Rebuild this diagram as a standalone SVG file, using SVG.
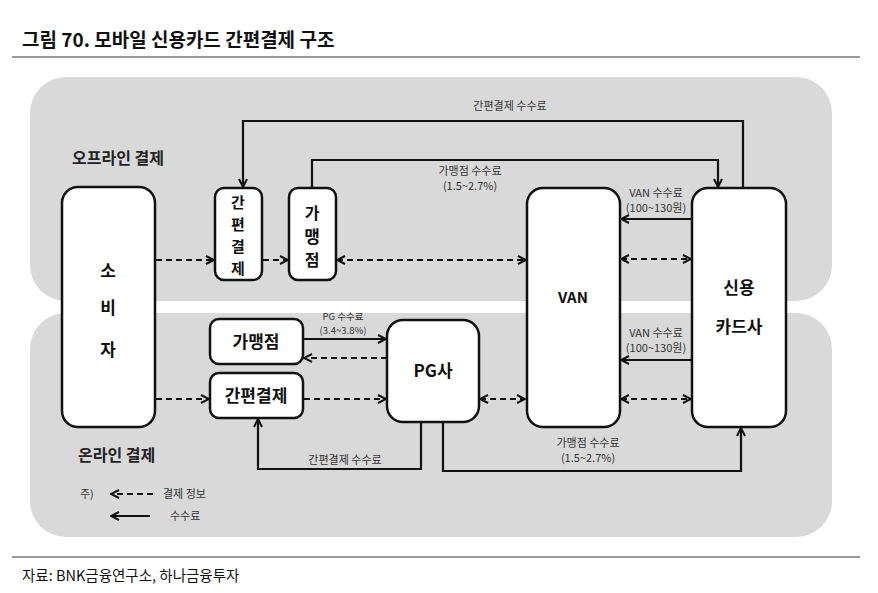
<svg xmlns="http://www.w3.org/2000/svg" width="878" height="593" viewBox="0 0 878 593">
<style>
.panel{fill:#d9d9d9;stroke:none}
.box{fill:#fff;stroke:#111;stroke-width:2.5}
.t{font-family:"Noto Sans CJK KR","Noto Sans",sans-serif;fill:#111}
.nb{font-size:17px;font-weight:bold;text-anchor:middle}
.lbl{font-size:11px;text-anchor:middle;fill:#333}
.lgd{font-size:11px;text-anchor:start;fill:#333}
.sec{font-size:16px;font-weight:bold;fill:#222}
.solid{fill:none;stroke:#111;stroke-width:2.2}
.dash{fill:none;stroke:#111;stroke-width:2.2;stroke-dasharray:6 4}
</style>
<defs>
<marker id="ah" viewBox="0 0 10 10" refX="9" refY="5" markerWidth="10" markerHeight="10" markerUnits="userSpaceOnUse" orient="auto-start-reverse">
<path d="M1,1 L9,5 L1,9" fill="none" stroke="#111" stroke-width="2" stroke-dasharray="none"/>
</marker>
</defs>
<rect width="878" height="593" fill="#fff"/>
<text class="t" x="22" y="47" font-size="19" font-weight="bold">그림 70. 모바일 신용카드 간편결제 구조</text>
<line x1="12" y1="57" x2="860" y2="57" stroke="#999" stroke-width="2"/>
<rect class="panel" x="30" y="77" width="802" height="224" rx="36"/>
<rect class="panel" x="30" y="313" width="802" height="224" rx="36"/>
<text class="t sec" x="72" y="164">오프라인 결제</text>
<text class="t sec" x="78" y="461">온라인 결제</text>
<g id="connectors">
<polyline class="solid" points="743,188 743,121 243,121 243,187" marker-end="url(#ah)"/>
<polyline class="solid" points="312,188 312,160 718,160 718,187" marker-end="url(#ah)"/>
<line class="dash" x1="156" y1="260" x2="214" y2="260" marker-end="url(#ah)"/>
<line class="dash" x1="263" y1="260" x2="288" y2="260" marker-end="url(#ah)"/>
<line class="dash" x1="337" y1="260" x2="526" y2="260" marker-start="url(#ah)" marker-end="url(#ah)"/>
<line class="dash" x1="621" y1="259" x2="691" y2="259" marker-start="url(#ah)" marker-end="url(#ah)"/>
<line class="solid" x1="692" y1="219" x2="621" y2="219" marker-end="url(#ah)"/>
<line class="solid" x1="692" y1="360" x2="621" y2="360" marker-end="url(#ah)"/>
<line class="dash" x1="621" y1="399" x2="691" y2="399" marker-start="url(#ah)" marker-end="url(#ah)"/>
<line class="dash" x1="480" y1="399" x2="525" y2="399" marker-start="url(#ah)" marker-end="url(#ah)"/>
<line class="solid" x1="304" y1="339" x2="386" y2="339" marker-end="url(#ah)"/>
<line class="dash" x1="387" y1="358" x2="304" y2="358" marker-end="url(#ah)"/>
<line class="dash" x1="156" y1="399" x2="209" y2="399" marker-end="url(#ah)"/>
<line class="dash" x1="304" y1="399" x2="386" y2="399" marker-end="url(#ah)"/>
<polyline class="solid" points="421,422 421,469 258,469 258,419" marker-end="url(#ah)"/>
<polyline class="solid" points="443,422 443,471 741,471 741,428" marker-end="url(#ah)"/>
<line class="dash" x1="153" y1="494" x2="111" y2="494" marker-end="url(#ah)"/>
<line class="solid" x1="150" y1="516" x2="111" y2="516" marker-end="url(#ah)"/>
</g>
<text class="t lbl" x="510" y="110">간편결제 수수료</text>
<text class="t lbl" x="470" y="175">가맹점 수수료</text>
<text class="t lbl" x="470" y="190">(1.5~2.7%)</text>
<text class="t lbl" x="656" y="197">VAN 수수료</text>
<text class="t lbl" x="656" y="212">(100~130원)</text>
<text class="t lbl" x="656" y="337">VAN 수수료</text>
<text class="t lbl" x="656" y="352">(100~130원)</text>
<text class="t lbl" x="343" y="320" style="font-size:9.5px">PG 수수료</text>
<text class="t lbl" x="343" y="334" style="font-size:9.5px">(3.4~3.8%)</text>
<text class="t lbl" x="345" y="464">간편결제 수수료</text>
<text class="t lbl" x="588" y="447">가맹점 수수료</text>
<text class="t lbl" x="588" y="462">(1.5~2.7%)</text>
<text class="t lgd" x="80" y="498">주)</text>
<text class="t lgd" x="163" y="498">결제 정보</text>
<text class="t lgd" x="170" y="520">수수료</text>
<g id="consumer">
<rect class="box" x="62" y="187" width="93" height="240" rx="16"/>
<text class="t nb" x="108" y="277">소</text>
<text class="t nb" x="108" y="314">비</text>
<text class="t nb" x="108" y="356">자</text>
</g>
<g id="easypay-offline">
<rect class="box" x="215" y="188" width="47" height="92" rx="9"/>
<text class="t nb" x="238" y="208" style="font-size:15px">간</text>
<text class="t nb" x="238" y="230" style="font-size:15px">편</text>
<text class="t nb" x="238" y="252" style="font-size:15px">결</text>
<text class="t nb" x="238" y="274" style="font-size:15px">제</text>
</g>
<g id="merchant-offline">
<rect class="box" x="289" y="188" width="47" height="92" rx="9"/>
<text class="t nb" x="312" y="219" style="font-size:16px">가</text>
<text class="t nb" x="312" y="242.5">맹</text>
<text class="t nb" x="312" y="266" style="font-size:16px">점</text>
</g>
<g id="van">
<rect class="box" x="527" y="188" width="93" height="239" rx="16"/>
<text class="t nb" x="573" y="303" style="font-size:15px">VAN</text>
</g>
<g id="card">
<rect class="box" x="692" y="188" width="94" height="239" rx="16"/>
<text class="t nb" x="739" y="294">신용</text>
<text class="t nb" x="739" y="333">카드사</text>
</g>
<g id="merchant-online">
<rect class="box" x="210" y="319" width="93" height="45" rx="9"/>
<text class="t nb" x="256" y="348">가맹점</text>
</g>
<g id="easypay-online">
<rect class="box" x="210" y="373" width="93" height="45" rx="9"/>
<text class="t nb" x="256" y="402">간편결제</text>
</g>
<g id="pg">
<rect class="box" x="387" y="320" width="92" height="102" rx="16"/>
<text class="t nb" x="433" y="377">PG사</text>
</g>
<line x1="12" y1="557" x2="860" y2="557" stroke="#999" stroke-width="2"/>
<text class="t" x="22" y="581" font-size="14.5" fill="#333">자료: BNK금융연구소, 하나금융투자</text>
</svg>
